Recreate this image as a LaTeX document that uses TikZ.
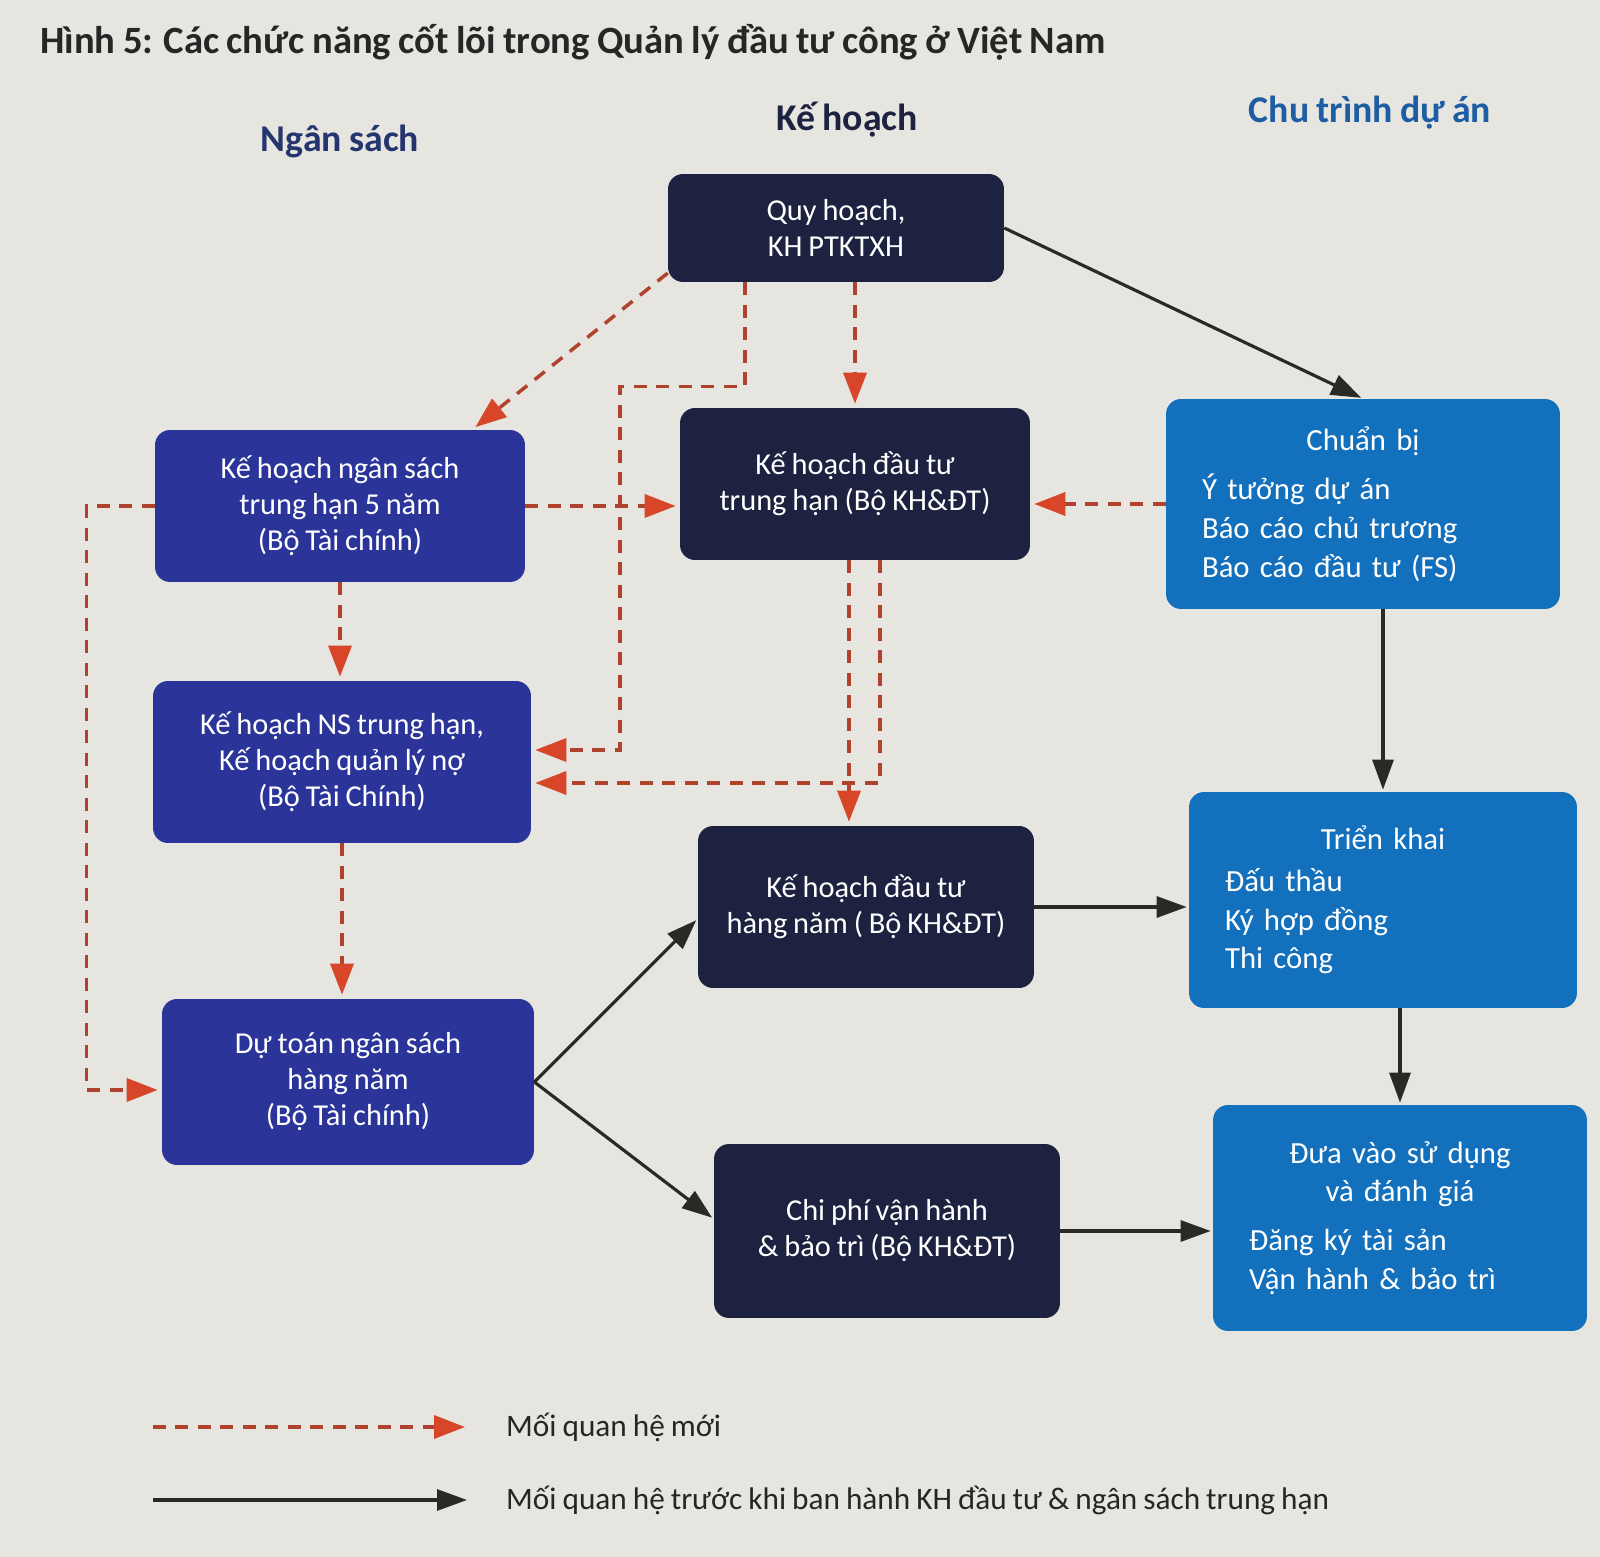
\documentclass[tikz,border=0pt]{standalone}
\usepackage{fontspec}
\setmainfont{Carlito}[WordSpace=0.85]
\usepackage{tikz}
\usetikzlibrary{arrows.meta,positioning}
\definecolor{paper}{HTML}{E7E5E0}
\definecolor{nsblue}{HTML}{2B3599}
\definecolor{khnavy}{HTML}{1C223F}
\definecolor{ctblue}{HTML}{1270BC}
\definecolor{nshead}{HTML}{24356F}
\definecolor{cthead}{HTML}{1D5DA3}
\definecolor{relred}{HTML}{B0432E}
\definecolor{arrred}{HTML}{D8462A}
\definecolor{relblack}{HTML}{2A2A24}

\begin{document}
\begin{tikzpicture}[x=0.02cm,y=-0.02cm,
  box/.style={rounded corners=0.3cm,text=white,align=center,inner sep=0pt,font=\fontsize{17.3}{20.5}\selectfont},
  nsbox/.style={box,fill=nsblue},
  khbox/.style={box,fill=khnavy},
  ctbox/.style={box,fill=ctblue,align=left,font=\fontsize{17.5}{22}\selectfont},
  head/.style={font=\bfseries\fontsize{21.5}{25}\selectfont},
  newrel/.style={draw=relred,line width=2pt,dash pattern=on 0.26cm off 0.19cm,shorten >=0.08cm,-{Triangle[length=0.62cm,width=0.46cm,color=arrred]}},
  oldrel/.style={draw=relblack,line width=1.8pt,shorten >=0.04cm,-{Triangle[length=0.6cm,width=0.42cm]}},
  legend/.style={anchor=west,font=\fontsize{17.8}{21}\selectfont,text=black!85}]
\fill[paper] (0,0) rectangle (1600,1557);
\node[anchor=west,font=\bfseries\fontsize{22}{26}\selectfont,text=black!85] (title) at (34,42) {Hình 5: Các chức năng cốt lõi trong Quản lý đầu tư công ở Việt Nam};
\node[head,text=nshead] (hns) at (340,141) {Ngân sách};
\node[head,text=khnavy] (hkh) at (847,120) {Kế hoạch};
\node[head,text=cthead] (hct) at (1370,113) {Chu trình dự án};

\node[nsbox,minimum width=7.4cm,minimum height=3.04cm] (nsth) at (340,506) {Kế hoạch ngân sách\\trung hạn 5 năm\\(Bộ Tài chính)};
\node[nsbox,minimum width=7.56cm,minimum height=3.24cm] (nsnq) at (342,762) {Kế hoạch NS trung hạn,\\Kế hoạch quản lý nợ\\(Bộ Tài Chính)};
\node[nsbox,minimum width=7.44cm,minimum height=3.32cm] (dt) at (348,1082) {Dự toán ngân sách\\hàng năm\\(Bộ Tài chính)};
\node[khbox,minimum width=6.72cm,minimum height=2.16cm] (qh) at (836,228) {Quy hoạch,\\KH PTKTXH};
\node[khbox,minimum width=7cm,minimum height=3.04cm] (ktth) at (855,484) {Kế hoạch đầu tư\\trung hạn (Bộ KH\&ĐT)};
\node[khbox,minimum width=6.72cm,minimum height=3.24cm] (ktkn) at (866,907) {Kế hoạch đầu tư\\hàng năm ( Bộ KH\&ĐT)};
\node[khbox,minimum width=6.92cm,minimum height=3.48cm] (cp) at (887,1231) {Chi phí vận hành\\\& bảo trì (Bộ KH\&ĐT)};
\node[ctbox,minimum width=7.88cm,minimum height=4.2cm,text width=6.44cm] (cb) at (1363,504) {{\centering Chuẩn bị\par}\vspace{6pt}Ý tưởng dự án\\Báo cáo chủ trương\\Báo cáo đầu tư (FS)};
\node[ctbox,minimum width=7.76cm,minimum height=4.32cm,text width=6.32cm] (tk) at (1383,900) {{\centering Triển khai\par}\vspace{2pt}Đấu thầu\\Ký hợp đồng\\Thi công};
\node[ctbox,minimum width=7.48cm,minimum height=4.52cm,text width=6.04cm] (dv) at (1400,1218) {{\centering Đưa vào sử dụng\\và đánh giá\par}\vspace{6pt}Đăng ký tài sản\\Vận hành \& bảo trì};

\draw[newrel] (qh.195) -- (nsth.30);
\draw[newrel] ([xshift=-1.82cm]qh.south) -- ++(0,104) -- ++(-125,0) |- ([yshift=0.24cm]nsnq.east);
\draw[newrel] (qh.south -| ktth.north) -- (ktth.north);
\draw[newrel] (nsth.east) -- (nsth.east -| ktth.west);
\draw[newrel] (nsth.west) -- ++(-68,0) |- ([yshift=-0.16cm]dt.west);
\draw[newrel] (nsth.south) -- (nsth.south |- nsnq.north);
\draw[newrel] (nsnq.south) -- (nsnq.south |- dt.north);
\draw[newrel] (cb.west) -- (cb.west -| ktth.east);
\draw[newrel] ([xshift=-0.12cm]ktth.south) -- ([xshift=-0.12cm]ktth.south |- ktkn.north);
\draw[newrel] ([xshift=0.5cm]ktth.south) |- ([yshift=-0.42cm]nsnq.east);

\draw[oldrel] (qh.east) -- (cb.north);
\draw[oldrel] (tk.north |- cb.south) -- (tk.north);
\draw[oldrel] (tk.south -| dv.north) -- (dv.north);
\draw[oldrel] (ktkn.east) -- (ktkn.east -| tk.west);
\draw[oldrel] (cp.east) -- (cp.east -| dv.west);
\draw[oldrel] (dt.east) -- (ktkn.184);
\draw[oldrel] (dt.east) -- (cp.176);

\coordinate (lnew0) at (153,1427);
\coordinate (lnew1) at (469,1427);
\coordinate (lold0) at (153,1500);
\coordinate (lold1) at (469,1500);
\draw[newrel] (lnew0) -- (lnew1);
\draw[oldrel] (lold0) -- (lold1);
\node[legend] (lnewtxt) at (500,1427) {Mối quan hệ mới};
\node[legend] (loldtxt) at (500,1500) {Mối quan hệ trước khi ban hành KH đầu tư \& ngân sách trung hạn};
\end{tikzpicture}
\end{document}
